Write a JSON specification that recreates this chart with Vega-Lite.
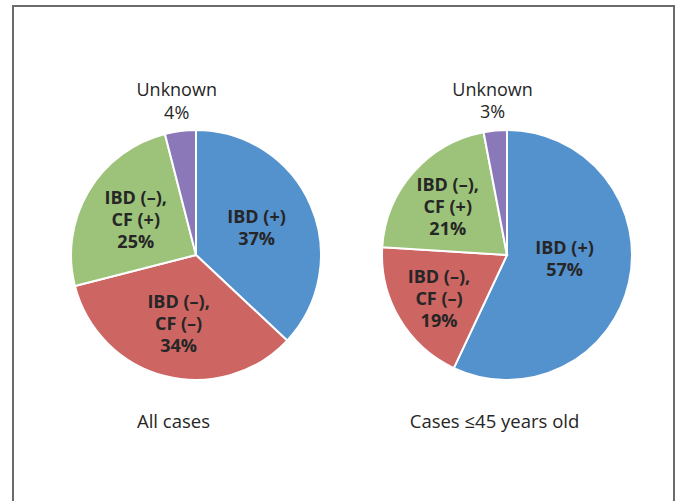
{
  "$schema": "https://vega.github.io/schema/vega-lite/v6.json",
  "width": 661,
  "height": 498,
  "autosize": {"type": "none"},
  "padding": {"left": 13, "top": 6, "right": 4, "bottom": 0},
  "background": "white",
  "config": {
    "view": {"stroke": "#6b6b6b", "strokeWidth": 2},
    "text": {"font": "Open Sans", "color": "#262626", "lineBreak": "\n", "align": "center", "baseline": "middle"}
  },
  "datasets": {
    "pies": [
      {"group": "All cases", "category": "IBD (+)", "k": 1, "value": 37, "label": "IBD (+)\n37%"},
      {"group": "All cases", "category": "IBD (–), CF (–)", "k": 2, "value": 34, "label": "IBD (–),\nCF (–)\n34%"},
      {"group": "All cases", "category": "IBD (–), CF (+)", "k": 3, "value": 25, "label": "IBD (–),\nCF (+)\n25%"},
      {"group": "All cases", "category": "Unknown", "k": 4, "value": 4, "label": "Unknown\n4%"},
      {"group": "Cases ≤45 years old", "category": "IBD (+)", "k": 1, "value": 57, "label": "IBD (+)\n57%"},
      {"group": "Cases ≤45 years old", "category": "IBD (–), CF (–)", "k": 2, "value": 19, "label": "IBD (–),\nCF (–)\n19%"},
      {"group": "Cases ≤45 years old", "category": "IBD (–), CF (+)", "k": 3, "value": 21, "label": "IBD (–),\nCF (+)\n21%"},
      {"group": "Cases ≤45 years old", "category": "Unknown", "k": 4, "value": 3, "label": "Unknown\n3%"}
    ],
    "titles": [
      {"group": "All cases"},
      {"group": "Cases ≤45 years old"}
    ]
  },
  "encoding": {
    "x": {
      "field": "group",
      "type": "nominal",
      "axis": null,
      "scale": {"type": "point", "padding": 0, "domain": ["All cases", "Cases ≤45 years old"], "range": [183, 494]}
    }
  },
  "layer": [
    {
      "data": {"name": "pies"},
      "transform": [{"filter": "datum.group === 'All cases'"}],
      "mark": {"type": "arc", "outerRadius": 125, "stroke": "white", "strokeWidth": 2},
      "encoding": {
        "theta": {"field": "value", "type": "quantitative", "stack": true, "scale": {"domain": [0, 100]}},
        "order": {"field": "k", "type": "quantitative"},
        "color": {
          "field": "category",
          "type": "nominal",
          "legend": null,
          "scale": {
            "domain": ["IBD (+)", "IBD (–), CF (–)", "IBD (–), CF (+)", "Unknown"],
            "range": ["#5492CD", "#CD6563", "#9DC37A", "#8B78B8"]
          }
        }
      }
    },
    {
      "data": {"name": "pies"},
      "transform": [{"filter": "datum.group === 'All cases'"}],
      "mark": {"type": "text", "radius": 66, "dy": -11, "fontSize": 18, "fontWeight": "bold", "lineHeight": 22},
      "encoding": {
        "theta": {"field": "value", "type": "quantitative", "stack": true},
        "order": {"field": "k", "type": "quantitative"},
        "text": {"field": "label", "type": "nominal", "condition": {"test": "datum.category !== 'IBD (+)'", "value": ""}}
      }
    },
    {
      "data": {"name": "pies"},
      "transform": [{"filter": "datum.group === 'All cases'"}],
      "mark": {"type": "text", "radius": 70, "dy": -20, "fontSize": 18, "fontWeight": "bold", "lineHeight": 22},
      "encoding": {
        "theta": {"field": "value", "type": "quantitative", "stack": true},
        "order": {"field": "k", "type": "quantitative"},
        "text": {"field": "label", "type": "nominal", "condition": {"test": "datum.category === 'Unknown' || datum.category === 'IBD (+)'", "value": ""}}
      }
    },
    {
      "data": {"name": "pies"},
      "transform": [{"filter": "datum.group === 'All cases'"}],
      "mark": {"type": "text", "radius": 154, "dy": -11, "fontSize": 18, "lineHeight": 22.5},
      "encoding": {
        "theta": {"field": "value", "type": "quantitative", "stack": true},
        "order": {"field": "k", "type": "quantitative"},
        "text": {"field": "label", "type": "nominal", "condition": {"test": "datum.category !== 'Unknown'", "value": ""}}
      }
    },
    {
      "data": {"name": "pies"},
      "transform": [{"filter": "datum.group !== 'All cases'"}],
      "mark": {"type": "arc", "outerRadius": 125, "stroke": "white", "strokeWidth": 2},
      "encoding": {
        "theta": {"field": "value", "type": "quantitative", "stack": true},
        "order": {"field": "k", "type": "quantitative"},
        "color": {"field": "category", "type": "nominal", "legend": null}
      }
    },
    {
      "data": {"name": "pies"},
      "transform": [{"filter": "datum.group !== 'All cases'"}],
      "mark": {"type": "text", "radius": 59, "dy": -19, "fontSize": 18, "fontWeight": "bold", "lineHeight": 22},
      "encoding": {
        "theta": {"field": "value", "type": "quantitative", "stack": true},
        "order": {"field": "k", "type": "quantitative"},
        "text": {"field": "label", "type": "nominal", "condition": {"test": "datum.category !== 'IBD (+)'", "value": ""}}
      }
    },
    {
      "data": {"name": "pies"},
      "transform": [{"filter": "datum.group !== 'All cases'"}],
      "mark": {"type": "text", "radius": 79, "dy": -17, "fontSize": 18, "fontWeight": "bold", "lineHeight": 22},
      "encoding": {
        "theta": {"field": "value", "type": "quantitative", "stack": true},
        "order": {"field": "k", "type": "quantitative"},
        "text": {"field": "label", "type": "nominal", "condition": {"test": "datum.category === 'Unknown' || datum.category === 'IBD (+)'", "value": ""}}
      }
    },
    {
      "data": {"name": "pies"},
      "transform": [{"filter": "datum.group !== 'All cases'"}],
      "mark": {"type": "text", "radius": 154, "dy": -11, "fontSize": 18, "lineHeight": 22.5},
      "encoding": {
        "theta": {"field": "value", "type": "quantitative", "stack": true},
        "order": {"field": "k", "type": "quantitative"},
        "text": {"field": "label", "type": "nominal", "condition": {"test": "datum.category !== 'Unknown'", "value": ""}}
      }
    },
    {
      "data": {"name": "titles"},
      "transform": [{"filter": "datum.group === 'All cases'"}],
      "mark": {"type": "text", "fontSize": 18.5, "dy": 167, "dx": -22.5},
      "encoding": {"text": {"field": "group", "type": "nominal"}}
    },
    {
      "data": {"name": "titles"},
      "transform": [{"filter": "datum.group !== 'All cases'"}],
      "mark": {"type": "text", "fontSize": 18.5, "dy": 167, "dx": -12.5},
      "encoding": {"text": {"field": "group", "type": "nominal"}}
    }
  ]
}
